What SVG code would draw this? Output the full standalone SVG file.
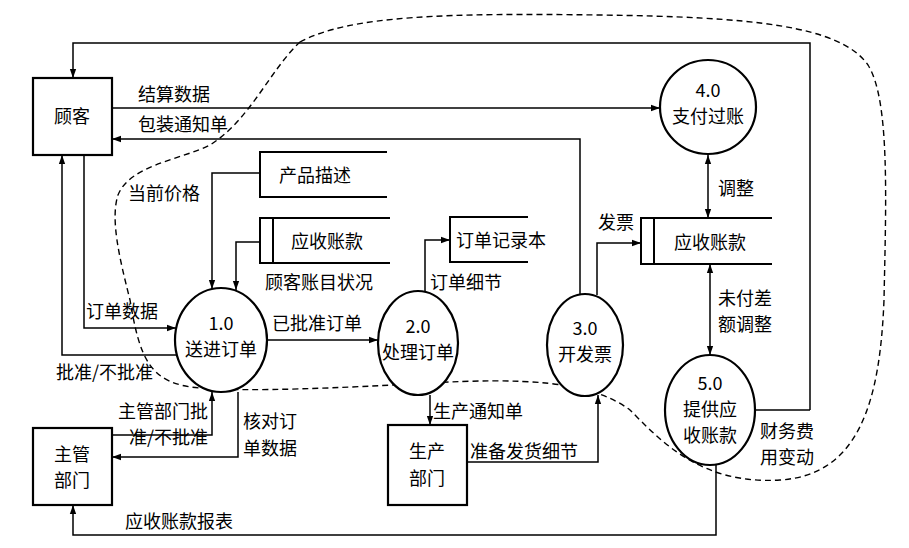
<svg xmlns="http://www.w3.org/2000/svg" width="909" height="548" viewBox="0 0 909 548">
<style>
text{font-family:"Noto Sans CJK SC","Liberation Serif",serif;font-size:18px;fill:#000}
.c{text-anchor:middle}
.b{fill:#fff;stroke:#000;stroke-width:2.2}
.l{fill:none;stroke:#000;stroke-width:1.5}
.s{fill:none;stroke:#000;stroke-width:2}
</style>
<defs><marker id="a" viewBox="0 0 10 10" refX="10" refY="5" markerWidth="9" markerHeight="9" orient="auto-start-reverse" markerUnits="userSpaceOnUse"><path d="M0,1.5L10,5L0,8.5z"/></marker></defs>
<rect width="909" height="548" fill="#fff"/>
<path d="M300,42 C350,15 450,13 600,15 C750,17 840,25 868,65 C890,100 886,200 884,300 C880,400 860,475 780,480 C700,485 660,440 630,410 C590,380 520,378 430,383 C340,388 250,392 200,388 C150,384 140,360 130,300 C120,260 110,220 118,195 C130,165 180,160 210,145 C250,120 270,70 300,42 Z" fill="none" stroke="#000" stroke-width="1.4" stroke-dasharray="6,4"/>
<g id="connectors" class="l">
<path class="l" d="M810,410V43H73V78" marker-end="url(#a)"/>
<path class="l" d="M755,410H810"/>
<path class="l" d="M112,108H660" marker-end="url(#a)"/>
<path class="l" d="M580,294V139H112" marker-end="url(#a)"/>
<path class="l" d="M597,295V243H641" marker-end="url(#a)"/>
<path class="l" d="M708,155V218" marker-start="url(#a)" marker-end="url(#a)"/>
<path class="l" d="M710,264V355" marker-start="url(#a)" marker-end="url(#a)"/>
<path class="l" d="M260,173H212V289" marker-end="url(#a)"/>
<path class="l" d="M260,242H236V290" marker-end="url(#a)"/>
<path class="l" d="M425,291V240H450" marker-end="url(#a)"/>
<path class="l" d="M178,355H62V155" marker-end="url(#a)"/>
<path class="l" d="M84,155V328H176" marker-end="url(#a)"/>
<path class="l" d="M267,340H378" marker-end="url(#a)"/>
<path class="l" d="M112,435H212V392" marker-end="url(#a)"/>
<path class="l" d="M238,392V457H112" marker-end="url(#a)"/>
<path class="l" d="M430,395V425" marker-end="url(#a)"/>
<path class="l" d="M467,462H598V395" marker-end="url(#a)"/>
<path class="l" d="M716,465V535H73V505" marker-end="url(#a)"/>
</g>
<g id="customer"><rect class="b" x="33" y="78" width="79" height="77"/><text class="c" x="72" y="123">顾客</text></g>
<g id="mgr"><rect class="b" x="33" y="428" width="79" height="77"/><text class="c" x="72" y="461">主管</text><text class="c" x="72" y="487">部门</text></g>
<g id="prod"><rect class="b" x="388" y="425" width="79" height="80"/><text class="c" x="427" y="458">生产</text><text class="c" x="427" y="485">部门</text></g>
<g id="p1"><ellipse class="b" cx="221" cy="340" rx="46" ry="52"/><text class="c" x="221" y="330">1.0</text><text class="c" x="221" y="356">送进订单</text></g>
<g id="p2"><ellipse class="b" cx="418" cy="343" rx="40" ry="52"/><text class="c" x="418" y="333">2.0</text><text class="c" x="418" y="359">处理订单</text></g>
<g id="p3"><ellipse class="b" cx="585" cy="345" rx="38" ry="51"/><text class="c" x="585" y="335">3.0</text><text class="c" x="585" y="361">开发票</text></g>
<g id="p4"><ellipse class="b" cx="708" cy="107" rx="48" ry="47"/><text class="c" x="708" y="97">4.0</text><text class="c" x="708" y="123">支付过账</text></g>
<g id="p5"><ellipse class="b" cx="710" cy="410" rx="45" ry="55"/><text class="c" x="710" y="390">5.0</text><text class="c" x="710" y="416">提供应</text><text class="c" x="710" y="442">收账款</text></g>
<g id="store1"><path class="s" d="M387,152H260V197H387"/><text class="c" x="315" y="182">产品描述</text></g>
<g id="store2"><path class="s" d="M390,218H260V263H390M273,218V263"/><text class="c" x="327" y="248">应收账款</text></g>
<g id="store3"><path class="s" d="M528,217H450V262H528"/><text x="456" y="247">订单记录本</text></g>
<g id="store4"><path class="s" d="M772,218H641V264H772M654,218V264"/><text class="c" x="710" y="249">应收账款</text></g>
<g id="labels">
<text x="138" y="101">结算数据</text><text x="138" y="131">包装通知单</text>
<text x="128" y="200">当前价格</text><text x="265" y="289">顾客账目状况</text>
<text x="430" y="289">订单细节</text><text x="598" y="229">发票</text>
<text x="718" y="195">调整</text><text x="718" y="305">未付差</text><text x="718" y="331">额调整</text>
<text x="86" y="318">订单数据</text><text x="56" y="379">批准/不批准</text>
<text x="272" y="330">已批准订单</text>
<text x="208" y="418" text-anchor="end">主管部门批</text><text x="208" y="444" text-anchor="end">准/不批准</text>
<text x="243" y="428">核对订</text><text x="243" y="455">单数据</text>
<text x="433" y="418">生产通知单</text><text x="470" y="458">准备发货细节</text>
<text x="760" y="438">财务费</text><text x="760" y="464">用变动</text>
<text x="125" y="528">应收账款报表</text>
</g>
</svg>
